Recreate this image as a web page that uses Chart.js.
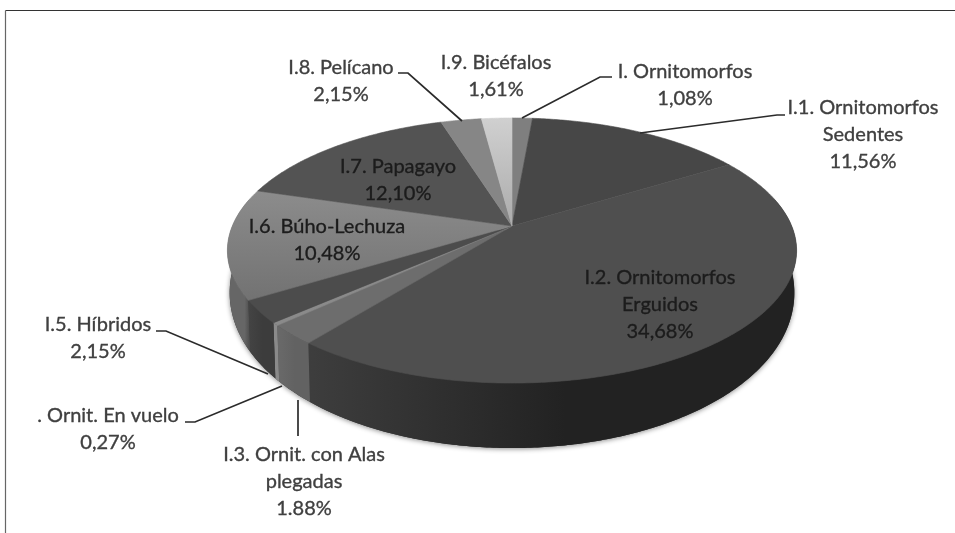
<!DOCTYPE html>
<html>
<head>
<meta charset="utf-8">
<style>
  html, body { margin: 0; padding: 0; background: #fff; overflow: hidden; }
  #grafico { display: block; filter: blur(0.7px); }
</style>
<script src="https://cdn.jsdelivr.net/npm/chart.js@4"></script>
</head>
<body>
<canvas id="grafico" width="955" height="533"></canvas>
<script>
// Datos
const categorias = ['I. Ornitomorfos', 'I.1. Ornitomorfos Sedentes', 'I.2. Ornitomorfos Erguidos', 'I.3. Ornit. con Alas plegadas', '. Ornit. En vuelo', 'I.5. Híbridos', 'I.6. Búho-Lechuza', 'I.7. Papagayo', 'I.8. Pelícano', 'I.9. Bicéfalos'];
const valores = [1.08, 11.56, 34.68, 1.88, 0.27, 2.15, 10.48, 12.10, 2.15, 1.61];
const lineasEtiqueta = [['I. Ornitomorfos'], ['I.1. Ornitomorfos', 'Sedentes'], ['I.2. Ornitomorfos', 'Erguidos'], ['I.3. Ornit. con Alas', 'plegadas'], ['. Ornit. En vuelo'], ['I.5. Híbridos'], ['I.6. Búho-Lechuza'], ['I.7. Papagayo'], ['I.8. Pelícano'], ['I.9. Bicéfalos']];
// El original escribe 1.88% con punto, los demas con coma
const textoValor = ['1,08%', '11,56%', '34,68%', '1.88%', '0,27%', '2,15%', '10,48%', '12,10%', '2,15%', '1,61%'];

// Estilos de cada porcion
const coloresCara = ['#7f7f7f', '#474747', '#4f4f4f', '#6d6d6d', '#8a8a8a', '#4c4c4c', '#858585', '#535353', '#868686', '#c9c9c9'];
const coloresLado = [['#555', '#555'], ['#333', '#333'], ['#3e3e3e', '#222222'], ['#6c6c6c', '#626262'], ['#8a8a8a', '#8a8a8a'], ['#474747', '#3c3c3c'], ['#666666', '#4e4e4e'], ['#444', '#444'], ['#555', '#555'], ['#777', '#777']];
// Porciones con la cara degradada (indice: arriba, abajo)
const degradadoCara = { 6: ['#8c8c8c', '#727272'], 9: ['#d0d0d0', '#ababab'] };

// Posicion del centro del texto (x, y primera linea) y color
const posEtiqueta = [[685, 72], [863, 108], [660, 278], [304, 455], [108, 416], [98, 325], [327, 227], [398, 167], [341, 68], [496, 63]];
const dentroDelPastel = [false, false, true, false, false, false, true, true, false, false];
const altoLinea = 27;

// Lineas guia
const guias = [
    [[612, 77], [600, 77], [522, 118]],
    [[785, 115], [777, 115], [640, 133]],
    [[298, 400], [298, 436]],
    [[185, 422], [195, 422], [282, 386]],
    [[156, 331], [166, 331], [268, 374]],
    [[398, 73], [408, 73], [462, 121]]
];

// Perspectiva del pastel
const persp = 0.185;
const escalaX = 1.2376;
const escalaY = 0.5664;
const profundidadBase = 37;
const profundidadFrente = 28;
const escalaBase = 0.992;

function proyectar(arc, ang) {
    const X = Math.cos(ang), Y = Math.sin(ang);
    const w = 1 - persp * Y;
    return {
        x: arc.x + arc.outerRadius * escalaX * X / w,
        y: arc.y + arc.outerRadius * escalaY * Y / w
    };
}

// Punto del borde inferior del canto: el canto crece hacia el frente
function proyectarBase(arc, ang) {
    const p = proyectar(arc, ang);
    return {
        x: arc.x + (p.x - arc.x) * escalaBase,
        y: p.y + profundidadBase + profundidadFrente * Math.sin(ang)
    };
}

function recorrer(a0, a1, fn) {
    const pasos = Math.max(2, Math.ceil(Math.abs(a1 - a0) / 0.01));
    for (let i = 0; i <= pasos; i++) {
        fn(a0 + (a1 - a0) * i / pasos);
    }
}

const pastel3d = {
    id: 'pastel3d',
    beforeDatasetsDraw(chart) {
        const ctx = chart.ctx;
        const arcos = chart.getDatasetMeta(0).data;
        // el frente va de 0 a PI (abajo en pantalla); los angulos empiezan en -PI/2
        const frenteIni = -0.22, frenteFin = Math.PI + 0.22;

        // sombra suave bajo el canto
        ctx.save();
        ctx.shadowColor = 'rgba(0,0,0,0.45)';
        ctx.shadowBlur = 5;
        ctx.shadowOffsetY = 1;
        ctx.fillStyle = '#333';
        ctx.beginPath();
        recorrer(frenteIni, frenteFin, a => {
            const p = proyectarBase(arcos[0], a);
            ctx.lineTo(p.x, p.y);
        });
        ctx.closePath();
        ctx.fill();
        ctx.restore();

        // canto
        arcos.forEach((arc, i) => {
            const rangos = [[arc.startAngle, arc.endAngle], [arc.startAngle + 2 * Math.PI, arc.endAngle + 2 * Math.PI]];
            rangos.forEach(r => {
                const a0 = Math.max(r[0], frenteIni);
                const a1 = Math.min(r[1], frenteFin);
                if (a1 <= a0) return;
                const izq = proyectar(arc, a1).x - 5, der = proyectar(arc, a0).x + 5;
                const grad = ctx.createLinearGradient(izq, 0, Math.max(der, izq + 1), 0);
                grad.addColorStop(0, coloresLado[i][0]);
                grad.addColorStop(0.55, coloresLado[i][1]);
                grad.addColorStop(1, coloresLado[i][1]);
                ctx.fillStyle = grad;
                ctx.beginPath();
                recorrer(a0, a1, a => {
                    const p = proyectar(arc, a);
                    ctx.lineTo(p.x, p.y);
                });
                recorrer(a1, a0, a => {
                    const p = proyectarBase(arc, a);
                    ctx.lineTo(p.x, p.y);
                });
                ctx.closePath();
                ctx.fill();
            });
        });

        // cara superior
        arcos.forEach((arc, i) => {
            let relleno = arc.options.backgroundColor;
            if (degradadoCara[i]) {
                let yMin = arc.y, yMax = arc.y;
                recorrer(arc.startAngle, arc.endAngle, a => {
                    const y = proyectar(arc, a).y;
                    yMin = Math.min(yMin, y);
                    yMax = Math.max(yMax, y);
                });
                relleno = ctx.createLinearGradient(0, yMin, 0, yMax);
                relleno.addColorStop(0, degradadoCara[i][0]);
                relleno.addColorStop(1, degradadoCara[i][1]);
            }
            ctx.fillStyle = relleno;
            ctx.strokeStyle = relleno;
            ctx.lineWidth = 0.6;
            ctx.beginPath();
            ctx.moveTo(arc.x, arc.y);
            recorrer(arc.startAngle, arc.endAngle, a => {
                const p = proyectar(arc, a);
                ctx.lineTo(p.x, p.y);
            });
            ctx.closePath();
            ctx.fill();
            ctx.stroke();
        });
        return false;
    },
    afterDraw(chart) {
        const ctx = chart.ctx;
        // marco superior e izquierdo
        ctx.save();
        ctx.strokeStyle = '#333';
        ctx.lineWidth = 1.2;
        ctx.beginPath();
        ctx.moveTo(5.5, 10.5);
        ctx.lineTo(955, 10.5);
        ctx.stroke();
        ctx.strokeStyle = '#666';
        ctx.beginPath();
        ctx.moveTo(5.5, 10.5);
        ctx.lineTo(5.5, 533);
        ctx.stroke();

        // guias
        ctx.strokeStyle = '#2b2b2b';
        ctx.lineWidth = 1.7;
        guias.forEach(g => {
            ctx.beginPath();
            g.forEach((p, i) => i ? ctx.lineTo(p[0], p[1]) : ctx.moveTo(p[0], p[1]));
            ctx.stroke();
        });

        // etiquetas
        ctx.font = '20px Lato';
        ctx.textAlign = 'center';
        ctx.textBaseline = 'middle';
        ctx.lineWidth = 0.35;
        categorias.forEach((cat, i) => {
            const lineas = lineasEtiqueta[i].concat([textoValor[i]]);
            const color = dentroDelPastel[i] ? '#1c1c1c' : '#404040';
            ctx.fillStyle = color;
            ctx.strokeStyle = color;
            lineas.forEach((txt, j) => {
                ctx.fillText(txt, posEtiqueta[i][0], posEtiqueta[i][1] + j * altoLinea);
                ctx.strokeText(txt, posEtiqueta[i][0], posEtiqueta[i][1] + j * altoLinea);
            });
        });
        ctx.restore();
    }
};

new Chart(document.getElementById('grafico'), {
    type: 'pie',
    data: {
        labels: categorias,
        datasets: [{ data: valores, backgroundColor: coloresCara, borderWidth: 0 }]
    },
    options: {
        responsive: false,
        animation: false,
        rotation: 0,
        layout: { padding: { left: 69, right: 0, top: 0, bottom: 81 } },
        plugins: { legend: { display: false }, tooltip: { enabled: false } }
    },
    plugins: [pastel3d]
});
</script>
</body>
</html>
